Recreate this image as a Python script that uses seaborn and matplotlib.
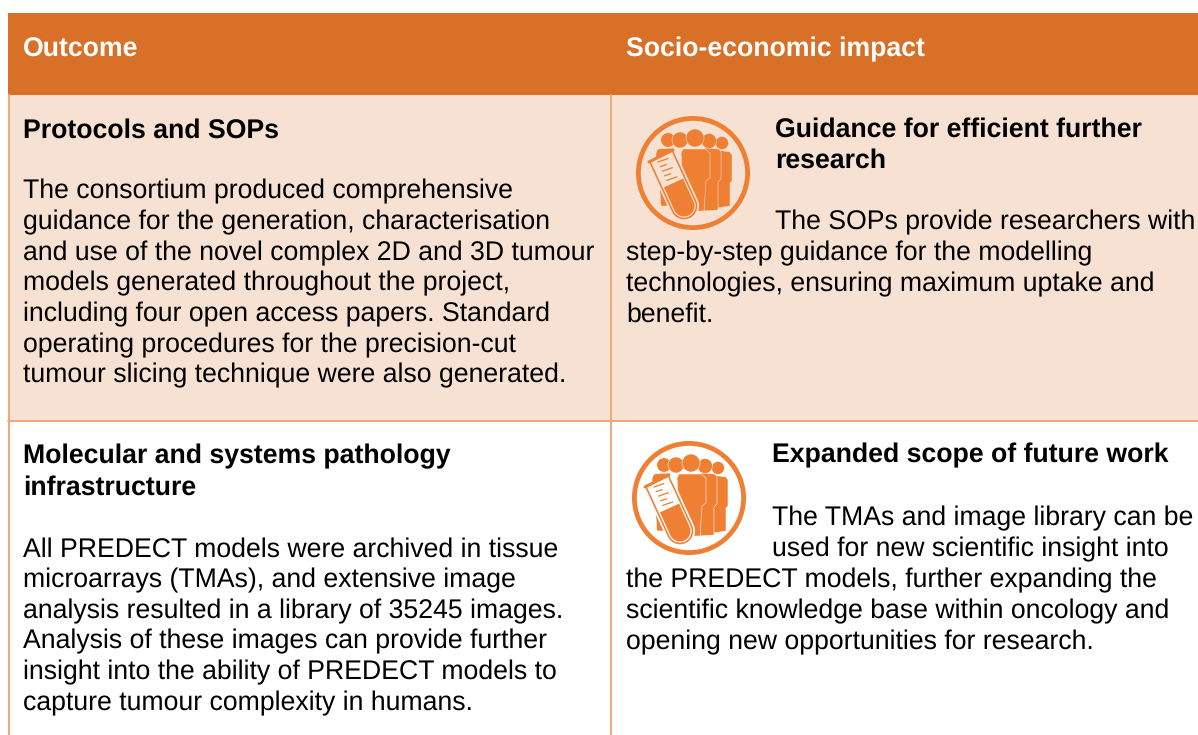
import numpy as np
import matplotlib
matplotlib.use('Agg')
import matplotlib.pyplot as plt
from matplotlib.patches import Circle, Polygon
import seaborn as sns

sns.set_theme(style='white')
plt.rcParams['font.family'] = ['Liberation Sans', 'DejaVu Sans']
plt.rcParams['text.hinting'] = 'none'

# Table text
headers = ['Outcome', 'Socio-economic impact']

row1_left_title = ['Protocols and SOPs']
row1_left_body = [
    'The consortium produced comprehensive',
    'guidance for the generation, characterisation',
    'and use of the novel complex 2D and 3D tumour',
    'models generated throughout the project,',
    'including four open access papers. Standard',
    'operating procedures for the precision-cut',
    'tumour slicing technique were also generated.',
]
row1_right_title = ['Guidance for efficient further', 'research']
row1_right_wrapped = ['The SOPs provide researchers with']
row1_right_body = [
    'step-by-step guidance for the modelling',
    'technologies, ensuring maximum uptake and',
    'benefit.',
]

row2_left_title = ['Molecular and systems pathology', 'infrastructure']
row2_left_body = [
    'All PREDECT models were archived in tissue',
    'microarrays (TMAs), and extensive image',
    'analysis resulted in a library of 35245 images.',
    'Analysis of these images can provide further',
    'insight into the ability of PREDECT models to',
    'capture tumour complexity in humans.',
]
row2_right_title = ['Expanded scope of future work']
row2_right_wrapped = ['The TMAs and image library can be', 'used for new scientific insight into']
row2_right_body = [
    'the PREDECT models, further expanding the',
    'scientific knowledge base within oncology and',
    'opening new opportunities for research.',
]

HEADER = '#D97027'
PEACH = '#F7E1D3'
BORDER = '#EFA97C'
ICON = '#EF7F33'
FS = 19.2
PITCH = 30.7


def px(w):
    # pixel width to points
    return w * 72 / 100


def write(ax, x, y, lines, bold=False, color='black'):
    for i, line in enumerate(lines):
        ax.text(x, y + 0.6 + i * PITCH, line, fontsize=FS, color=color, va='baseline', ha='left',
                fontweight='bold' if bold else 'normal', zorder=5)


def tube_outline(top, bottom, half, n=30):
    top, bottom = np.array(top, float), np.array(bottom, float)
    d = (bottom - top) / np.linalg.norm(bottom - top)
    p = np.array([-d[1], d[0]])
    t = np.linspace(0, np.pi, n)
    arc = [bottom + half * (np.cos(a) * -p + np.sin(a) * d) for a in t]
    return np.array([top - half * p] + arc + [top + half * p])


def draw_icon(ax, cx, cy, bg):
    ax.add_patch(Circle((cx, cy), 54.6, fc='none', ec=ICON, lw=px(4.8), zorder=3))

    # heads
    for dx, dy, r in [(-25, -33, 7.2), (29, -30, 6.5), (16, -32, 7.5), (-13, -33, 8), (2, -35, 9)]:
        ax.add_patch(Circle((cx + dx, cy + dy), r, fc=ICON, ec=bg, lw=px(0.5), zorder=3))

    # bodies, back to front
    bodies = [
        [(24, -23), (37, -21), (39, -18), (39, 8), (37, 10), (37, 33), (24, 35)],
        [(12, -25), (26, -24), (28, -21), (28, 6), (25, 9), (25, 37), (11, 38)],
        [(-35, -24), (-20, -25), (-10, 30), (-25, 33), (-32, 33), (-34, 6), (-37, 3), (-37, -20)],
        [(-10, -24), (12, -24), (17, -20), (17, 5), (13, 8), (11, 38), (-8, 38), (-12, -20)],
    ]
    for b in bodies:
        pts = [(cx + x, cy + y) for x, y in b]
        ax.add_patch(Polygon(pts, closed=True, fc=ICON, ec=bg, lw=px(0.5), joinstyle='round', zorder=3))

    # test tube tilted across the figures
    top = (cx - 32, cy - 17)
    bottom = (cx - 9, cy + 33)
    ax.add_patch(Polygon(tube_outline(top, bottom, 14.5), closed=True, fc=bg, ec=bg, lw=px(1), zorder=4))
    ax.add_patch(Polygon(tube_outline(top, bottom, 12.5), closed=True, fc=bg, ec=ICON, lw=px(1.6), zorder=4))
    level = (cx - 19.5, cy + 10)
    ax.add_patch(Polygon(tube_outline(level, bottom, 10.5), closed=True, fc=ICON, ec='none', zorder=4))
    ax.plot([cx - 44, cx - 20], [cy - 11, cy - 23], color=ICON, lw=px(3), solid_capstyle='round', zorder=4)
    for k in range(5):
        y0 = cy - 11 + k * 4.6
        x0 = cx - 35 + k * 2.2
        ax.plot([x0, x0 + (6 if k % 2 else 10)], [y0, y0 - (2 if k % 2 else 3.5)],
                color=ICON, lw=px(1.3), zorder=4)


fig = plt.figure(figsize=(11.98, 7.35), dpi=100)
ax = fig.add_axes([0, 0, 1, 1])
ax.set_xlim(0, 1198)
ax.set_ylim(735, 0)
ax.axis('off')

# cell fills
ax.fill_between([8, 1198], 13, 95, color=HEADER, lw=0, zorder=1)
ax.fill_between([8, 1198], 95, 420, color=PEACH, lw=0, zorder=1)

# grid lines
ax.plot([9, 9], [95, 735], color=BORDER, lw=px(2), zorder=2)
ax.plot([611, 611], [95, 735], color=BORDER, lw=px(2), zorder=2)
ax.plot([8, 1198], [421, 421], color=BORDER, lw=px(2), zorder=2)

write(ax, 23, 56, headers[:1], bold=True, color='white')
write(ax, 626, 56, headers[1:], bold=True, color='white')

write(ax, 23, 137, row1_left_title, bold=True)
write(ax, 23, 198, row1_left_body)
write(ax, 775, 136, row1_right_title, bold=True)
write(ax, 775, 229, row1_right_wrapped)
write(ax, 626, 260, row1_right_body)

write(ax, 23, 463, row2_left_title, bold=True)
write(ax, 23, 556, row2_left_body)
write(ax, 772, 462, row2_right_title, bold=True)
write(ax, 772, 525, row2_right_wrapped)
write(ax, 626, 587, row2_right_body)

draw_icon(ax, 693, 173, PEACH)
draw_icon(ax, 689, 498, 'white')

fig.savefig('out.png', dpi=100)
